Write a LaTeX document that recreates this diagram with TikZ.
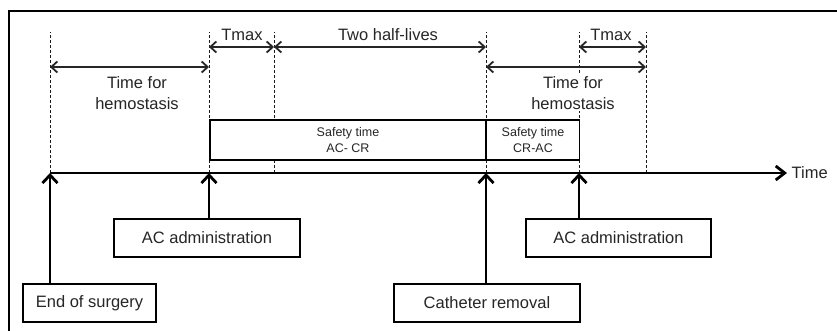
\documentclass[tikz,border=0pt]{standalone}
\usepackage{fontspec}
\setmainfont{Liberation Sans}
\usetikzlibrary{arrows.meta}

\begin{document}
\begin{tikzpicture}[x=1pt, y=-1pt,
    guide/.style={densely dashed, line width=1pt, black!90},
    span/.style={{Straight Barb[length=6pt,width=11pt]}-{Straight Barb[length=6pt,width=11pt]}, line width=1.8pt, black!85},
    event/.style={-{Straight Barb[length=8pt,width=15pt]}, line width=2.8pt},
    eventbox/.style={draw, fill=white, line width=1.1pt, minimum height=38pt, font=\fontsize{16.5}{19}\selectfont, text=black!85},
    safebox/.style={draw, fill=white, line width=1.1pt, minimum height=40pt, align=center, font=\fontsize{12.5}{15.5}\selectfont, text=black!85},
    lbl/.style={font=\fontsize{16.5}{21}\selectfont, text=black!85, align=center}]
    \useasboundingbox (0,0) rectangle (837,331);
    \draw[line width=1.4pt] (837,11) -- (9,11) -- (9,331);

    % points on the time axis
    \coordinate (t0) at (50,173);
    \coordinate (t1) at (209,173);
    \coordinate (t2) at (274,173);
    \coordinate (t3) at (486,173);
    \coordinate (t4) at (579,173);
    \coordinate (t5) at (646,173);
    \coordinate (tend) at (787,173);
    \coordinate (row1) at (0,47);
    \coordinate (row2) at (0,67);

    \foreach \t in {t0,t1,t2,t3,t4,t5}
        \draw[guide] (\t) -- ++(0,-141);

    \draw[span] (t0 |- row2) -- (t1 |- row2);
    \draw[span] (t1 |- row1) -- (t2 |- row1);
    \draw[span] (t2 |- row1) -- (t3 |- row1);
    \draw[span] (t4 |- row1) -- (t5 |- row1);
    \draw[span] (t3 |- row2) -- (t5 |- row2);

    \node[lbl] (tmaxa) at (242,35) {Tmax};
    \node[lbl] (halves) at (388,35) {Two half-lives};
    \node[lbl] (tmaxb) at (611,35) {Tmax};
    \node[lbl, fill=white, inner sep=1pt] (hemoa) at (137,93) {Time for\\hemostasis};
    \node[lbl, fill=white, inner sep=1pt] (hemob) at (573,93) {Time for\\hemostasis};

    \node[safebox, minimum width=276pt] (accr) at (348,140) {Safety time\\AC- CR};
    \node[safebox, minimum width=93pt] (crac) at (533,140) {Safety time\\CR-AC};

    \draw[line width=2.8pt, -{Straight Barb[length=9pt,width=14pt]}] (t0) -- (tend)
        node[right, lbl] (timelbl) {Time};

    \node[eventbox, minimum width=133pt] (surgery) at (89.5,303) {End of surgery};
    \node[eventbox, minimum width=186pt] (acfirst) at (207,238) {AC administration};
    \node[eventbox, minimum width=186pt] (removal) at (487,303) {Catheter removal};
    \node[eventbox, minimum width=185pt] (acsecond) at (618.5,238) {AC administration};

    \draw[event] (t0 |- surgery.north) -- (t0);
    \draw[event] (t1 |- acfirst.north) -- (t1);
    \draw[event] (t3 |- removal.north) -- (t3);
    \draw[event] (t4 |- acsecond.north) -- (t4);
\end{tikzpicture}
\end{document}
